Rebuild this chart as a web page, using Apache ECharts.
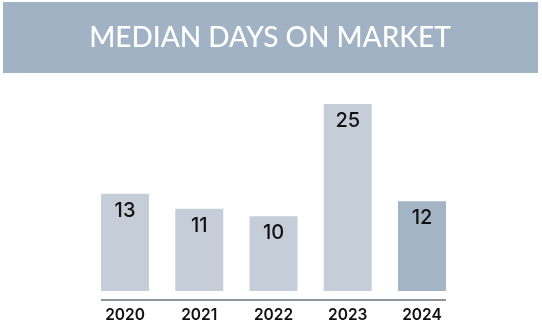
<!DOCTYPE html>
<html>
<head>
<meta charset="utf-8">
<script src="https://cdn.jsdelivr.net/npm/echarts@6/dist/echarts.min.js"></script>
<style>
  html, body { margin: 0; padding: 0; background: #ffffff; }
  #chart { width: 542px; height: 333px; }
</style>
</head>
<body>
<div id="chart"></div>
<script>
// Median days on market by year
const years = ['2020', '2021', '2022', '2023', '2024'];
const medianDays = [13, 11, 10, 25, 12];
const titleText = 'MEDIAN DAYS ON MARKET';

const baseColor = '#c5ced8';
const highlightColor = '#a3b4c4';
const bannerColor = '#a0b2c3';
const titleFont = 'Lato, "Noto Sans", sans-serif';
const labelFont = 'Inter, Lato, sans-serif';

const chart = echarts.init(document.getElementById('chart'), null, { renderer: 'canvas' });

const barData = medianDays.map((v, i) => ({
  value: v,
  itemStyle: { color: i === medianDays.length - 1 ? highlightColor : baseColor }
}));

chart.setOption({
  backgroundColor: '#ffffff',
  animation: false,
  grid: { left: 87.9, right: 82.9, top: 66.6, bottom: 42 },
  xAxis: {
    type: 'category',
    data: years,
    axisLine: { show: false },
    axisTick: { show: false },
    axisLabel: {
      color: '#111111',
      fontSize: 15.5,
      fontFamily: labelFont,
      fontWeight: 600,
      margin: 16
    }
  },
  yAxis: {
    type: 'value',
    min: 0,
    max: 30,
    show: false,
    splitLine: { show: false }
  },
  series: [{
    type: 'bar',
    data: barData,
    barWidth: 48,
    label: {
      show: true,
      position: 'insideTop',
      distance: 7,
      color: '#111111',
      fontSize: 20,
      fontFamily: labelFont,
      fontWeight: 500
    }
  }]
});

// Title banner and baseline rule under the bars
const first = chart.convertToPixel({ seriesIndex: 0 }, [0, 0]);
const last = chart.convertToPixel({ seriesIndex: 0 }, [years.length - 1, 0]);
const half = 24;
chart.setOption({
  graphic: [
    {
      type: 'rect',
      shape: { x: 3, y: 2, width: 535, height: 71 },
      style: { fill: bannerColor },
      z: 0
    },
    {
      type: 'text',
      x: 270,
      y: 38,
      style: {
        text: titleText,
        fill: '#ffffff',
        fontSize: 28,
        fontFamily: titleFont,
        fontWeight: 500,
        align: 'center',
        verticalAlign: 'middle'
      },
      z: 1
    },
    {
      type: 'line',
      shape: { x1: first[0] - half, y1: first[1] + 9, x2: last[0] + half, y2: last[1] + 9 },
      style: { stroke: '#8c949c', lineWidth: 2 },
      z: 1
    }
  ]
});
</script>
</body>
</html>
